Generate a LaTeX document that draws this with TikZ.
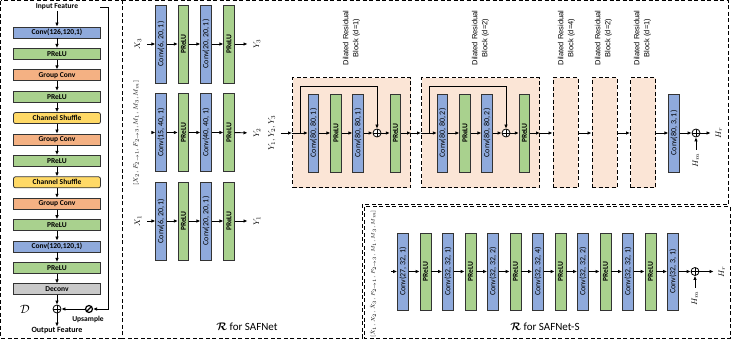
\documentclass[tikz,border=0pt]{standalone}
\usepackage{amsmath,bm}
\usepackage{fontspec}
\setmainfont{Carlito}
\newfontfamily\labfont{Liberation Sans}
\usetikzlibrary{arrows.meta}
\definecolor{cblue}{HTML}{8FAADC}
\definecolor{cgreen}{HTML}{A9D18E}
\definecolor{corange}{HTML}{F4B183}
\definecolor{cyellow}{HTML}{FFD966}
\definecolor{cgray}{HTML}{C9C9C9}
\definecolor{cpeach}{HTML}{FBE5D6}
\tikzset{
 arr/.style={-{Latex[length=4pt,width=3.6pt]},line width=0.9pt},
 ln/.style={line width=0.9pt},
 hbox/.style={draw=black!80,line width=0.8pt,minimum width=87pt,minimum height=11pt,inner sep=0pt,font=\bfseries\fontsize{7.5}{8}\selectfont},
 vbox/.style={draw=black!80,line width=0.8pt,rotate=90,minimum width=78pt,minimum height=10.5pt,inner sep=0pt,font=\fontsize{8}{9}\selectfont},
 convbox/.style={vbox,fill=cblue},
 prelubox/.style={vbox,fill=cgreen,font=\bfseries\fontsize{7.5}{9}\selectfont},
 osum/.style={circle,draw,line width=0.8pt,minimum size=8pt,inner sep=0pt,fill=white,
   path picture={\draw[line width=0.8pt] (path picture bounding box.north) -- (path picture bounding box.south) (path picture bounding box.west) -- (path picture bounding box.east);}},
 upsmp/.style={circle,draw,line width=1.2pt,minimum size=7pt,inner sep=0pt,
   path picture={\draw[line width=1.2pt] (path picture bounding box.south west) -- (path picture bounding box.north east);}},
 vlab/.style={rotate=90,inner sep=1pt,font=\fontsize{8}{9}\selectfont},
 blk/.style={draw,dash pattern=on 4pt off 2.5pt,line width=1pt,fill=cpeach,minimum height=110pt,inner sep=0pt},
 blklab/.style={rotate=90,align=center,inner sep=0pt,font=\labfont\fontsize{7.5}{10}\selectfont},
 panelframe/.style={dash pattern=on 4pt off 2.5pt,line width=1pt},
 boldlab/.style={font=\bfseries\fontsize{7.5}{8}\selectfont,inner sep=1pt},
}
\begin{document}
\begin{tikzpicture}[x=1pt,y=-1pt]
\useasboundingbox (0,0) rectangle (731,339);
% ---------- panel frames ----------
\draw[panelframe] (0.8,0.8) rectangle (122,338.2);
\draw[panelframe] (122,0.8) -- (728.5,0.8) -- (728.5,205) -- (362,205) -- (362,338.2) -- (122,338.2);
\draw[panelframe] (364.5,207) rectangle (730.2,338.2);
% ---------- left panel D ----------
\node[boldlab] (din) at (57,7) {Input Feature};
\node[hbox,fill=cblue] (d1) at (57,32.5) {Conv(126,120,1)};
\node[hbox,fill=cgreen] (d2) at (57,53.9) {PReLU};
\node[hbox,fill=corange] (d3) at (57,75.3) {Group Conv};
\node[hbox,fill=cgreen] (d4) at (57,96.7) {PReLU};
\node[hbox,fill=cyellow,rounded corners=2pt] (d5) at (57,118.1) {Channel Shuffle};
\node[hbox,fill=corange] (d6) at (57,139.5) {Group Conv};
\node[hbox,fill=cgreen] (d7) at (57,160.9) {PReLU};
\node[hbox,fill=cyellow,rounded corners=2pt] (d8) at (57,182.3) {Channel Shuffle};
\node[hbox,fill=corange] (d9) at (57,203.7) {Group Conv};
\node[hbox,fill=cgreen] (d10) at (57,225.1) {PReLU};
\node[hbox,fill=cblue] (d11) at (57,246.5) {Conv(120,120,1)};
\node[hbox,fill=cgreen] (d12) at (57,267.9) {PReLU};
\node[hbox,fill=cgray] (d13) at (57,289.3) {Deconv};
\node[osum] (dsum) at (57,309) {};
\node[upsmp] (dup) at (89,309) {};
\node[boldlab] (dupl) at (88,319.5) {Upsample};
\node[font=\fontsize{13}{13}\selectfont] (dcal) at (25,309) {$\mathcal{D}$};
\node[boldlab,font=\bfseries\fontsize{8}{9}\selectfont] (dout) at (57,331) {Output Feature};
\draw[arr] (din) -- (d1);
\foreach \a/\b in {d1/d2,d2/d3,d3/d4,d4/d5,d5/d6,d6/d7,d7/d8,d8/d9,d9/d10,d10/d11,d11/d12,d12/d13,d13/dsum}
  \draw[arr] (\a) -- (\b);
\draw[arr] (dsum) -- (dout);
\coordinate (sk0) at (100,7);
\coordinate (sk1) at (108,309);
\draw[arr] (sk0) -- (sk1 |- sk0) -- (sk1) -- (dup);
\draw[arr] (dup) -- (dsum);
% ---------- SAFNet rows ----------
% row Y3
\node[vlab] (x3) at (138,44) {$X_3$};
\node[convbox] (a1) at (161,44) {Conv(6, 20, 1)};
\node[prelubox] (a2) at (183.5,44) {PReLU};
\node[convbox] (a3) at (206,44) {Conv(20, 20, 1)};
\node[prelubox] (a4) at (229,44) {PReLU};
\node[vlab] (y3) at (257,44) {$Y_3$};
% row Y2
\node[vlab,font=\fontsize{6.4}{7}\selectfont] (x2) at (136,133) {$[X_2, F_{2\to1}, F_{2\to3}, M_1, M_3, M_m]$};
\node[convbox] (b1) at (161,132.5) {Conv(15, 40, 1)};
\node[prelubox] (b2) at (183.5,132.5) {PReLU};
\node[convbox] (b3) at (206,132.5) {Conv(40, 40, 1)};
\node[prelubox] (b4) at (229,132.5) {PReLU};
\node[vlab] (y2) at (257,133) {$Y_2$};
% row Y1
\node[vlab] (x1) at (138,221) {$X_1$};
\node[convbox] (c1) at (161,221) {Conv(6, 20, 1)};
\node[prelubox] (c2) at (183.5,221) {PReLU};
\node[convbox] (c3) at (206,221) {Conv(20, 20, 1)};
\node[prelubox] (c4) at (229,221) {PReLU};
\node[vlab] (y1) at (257,221) {$Y_1$};
\foreach \r in {a,b,c}{
  \draw[arr] (\r1) -- (\r2);
  \draw[arr] (\r2) -- (\r3);
  \draw[arr] (\r3) -- (\r4);
}
\draw[arr,shorten <=5pt] (x3) -- (a1);
\draw[arr,shorten <=5pt] (x1) -- (c1);
\draw[arr] ([xshift=12pt]x2.south |- b1) -- (b1);
\draw[arr,shorten >=5pt] (a4) -- (y3);
\draw[arr,shorten >=5pt] (b4) -- (y2);
\draw[arr,shorten >=5pt] (c4) -- (y1);
\node[font=\fontsize{11}{12}\selectfont] (rl1) at (247,327) {$\bm{\mathcal{R}}$ for SAFNet};
% ---------- dilated residual blocks ----------
\node[vlab] (ylab) at (272,133) {$Y_1, Y_2, Y_3$};
\node[blk,minimum width=118pt] (blk1) at (351.5,133) {};
\node[blk,minimum width=118pt] (blk2) at (480.5,133) {};
\node[blk,minimum width=25pt] (blk3) at (565.5,133) {};
\node[blk,minimum width=25pt] (blk4) at (604.5,133) {};
\node[blk,minimum width=25pt] (blk5) at (643,133) {};
\node[blklab] (l1) at (351.5,38) {Dilated Residual\\Block (d=1)};
\node[blklab] (l2) at (480.5,38) {Dilated Residual\\Block (d=2)};
\node[blklab] (l3) at (566.5,38) {Dilated Residual\\Block (d=4)};
\node[blklab] (l4) at (603.5,38) {Dilated Residual\\Block (d=2)};
\node[blklab] (l5) at (642.5,38) {Dilated Residual\\Block (d=1)};
% block 1 contents
\node[convbox] (k1c1) at (313.5,133) {Conv(80, 80, 1)};
\node[prelubox] (k1p1) at (336,133) {PReLU};
\node[convbox] (k1c2) at (358,133) {Conv(80, 80, 1)};
\node[osum] (k1o) at (377,133) {};
\node[prelubox] (k1p2) at (395.5,133) {PReLU};
\coordinate (k1s) at (300,133);
% block 2 contents
\node[convbox] (k2c1) at (442.5,133) {Conv(80, 80, 2)};
\node[prelubox] (k2p1) at (465,133) {PReLU};
\node[convbox] (k2c2) at (487,133) {Conv(80, 80, 2)};
\node[osum] (k2o) at (506,133) {};
\node[prelubox] (k2p2) at (524.5,133) {PReLU};
\coordinate (k2s) at (429,133);
\foreach \k in {1,2}{
  \draw[arr] (blk\k.west) -- (k\k c1);
  \draw[arr] (k\k c1) -- (k\k p1);
  \draw[arr] (k\k p1) -- (k\k c2);
  \draw[arr] (k\k c2) -- (k\k o);
  \draw[arr] (k\k o) -- (k\k p2);
  \draw[arr] (k\k p2) -- (blk\k.east);
  \draw[arr] (k\k s) -- ++(0,-47) -| (k\k o.north);
}
\draw[arr,shorten <=4pt] (ylab) -- (blk1.west);
\draw[arr] (blk1.east) -- (blk2.west);
\draw[arr] (blk2.east) -- (blk3.west);
\draw[arr] (blk3.east) -- (blk4.west);
\draw[arr] (blk4.east) -- (blk5.west);
\node[convbox] (cf) at (674,133) {Conv(80, 3, 1)};
\draw[arr] (blk5.east) -- (cf);
\node[osum] (of) at (696,133) {};
\node[vlab] (hm1) at (696,160) {$H_m$};
\node[vlab] (hr1) at (719,133) {$H_r$};
\draw[arr] (cf) -- (of);
\draw[arr,shorten <=2pt] (hm1) -- (of);
\draw[arr,shorten >=4pt] (of) -- (hr1);
% ---------- SAFNet-S ----------
\node[vlab,font=\fontsize{5.4}{6}\selectfont] (sin) at (373,274) {$[\tilde{X}_1, X_2, \tilde{X}_3, F_{2\to1}, F_{2\to3}, M_1, M_3, M_m]$};
\node[convbox,minimum width=77pt,minimum height=11pt] (s0) at (403,271.5) {Conv(27, 32, 1)};
\node[prelubox,minimum width=77pt,minimum height=11pt] (s1) at (425.5,271.5) {PReLU};
\node[convbox,minimum width=77pt,minimum height=11pt] (s2) at (448,271.5) {Conv(32, 32, 1)};
\node[prelubox,minimum width=77pt,minimum height=11pt] (s3) at (470.5,271.5) {PReLU};
\node[convbox,minimum width=77pt,minimum height=11pt] (s4) at (493,271.5) {Conv(32, 32, 2)};
\node[prelubox,minimum width=77pt,minimum height=11pt] (s5) at (515.5,271.5) {PReLU};
\node[convbox,minimum width=77pt,minimum height=11pt] (s6) at (538,271.5) {Conv(32, 32, 4)};
\node[prelubox,minimum width=77pt,minimum height=11pt] (s7) at (560.5,271.5) {PReLU};
\node[convbox,minimum width=77pt,minimum height=11pt] (s8) at (583,271.5) {Conv(32, 32, 2)};
\node[prelubox,minimum width=77pt,minimum height=11pt] (s9) at (605.5,271.5) {PReLU};
\node[convbox,minimum width=77pt,minimum height=11pt] (s10) at (628,271.5) {Conv(32, 32, 1)};
\node[prelubox,minimum width=77pt,minimum height=11pt] (s11) at (650.5,271.5) {PReLU};
\node[convbox,minimum width=77pt,minimum height=11pt] (s12) at (673,271.5) {Conv(32, 3, 1)};
\foreach \a/\b in {0/1,1/2,2/3,3/4,4/5,5/6,6/7,7/8,8/9,9/10,10/11,11/12}
  \draw[arr] (s\a) -- (s\b);
\draw[arr] ([xshift=14pt]sin.south |- s0) -- (s0);
\node[osum] (os) at (695,271.5) {};
\node[vlab] (hm2) at (695,298) {$H_m$};
\node[vlab] (hr2) at (722,271.5) {$H_r$};
\draw[arr] (s12) -- (os);
\draw[arr,shorten <=2pt] (hm2) -- (os);
\draw[arr,shorten >=4pt] (os) -- (hr2);
\node[font=\fontsize{11}{12}\selectfont] (rl2) at (545,327) {$\bm{\mathcal{R}}$ for SAFNet-S};
\end{tikzpicture}
\end{document}
